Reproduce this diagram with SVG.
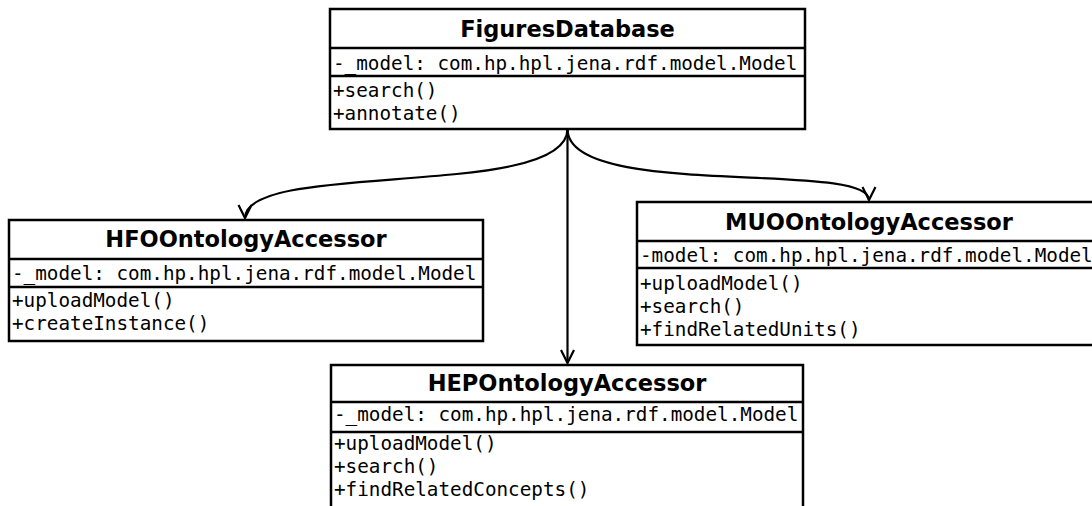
<svg xmlns="http://www.w3.org/2000/svg" width="1092" height="506" viewBox="0 0 1092 506">
  <style>
    .box { fill: #ffffff; stroke: #000000; stroke-width: 2.5; }
    .sep { stroke: #000000; stroke-width: 2.5; }
    .title { font-family: "DejaVu Sans", "Liberation Sans", sans-serif; font-weight: bold; font-size: 22.5px; text-anchor: middle; fill: #000000; }
    .member { font-family: "DejaVu Sans Mono", "Liberation Mono", monospace; font-size: 19.3px; fill: #000000; }
    .edge { fill: none; stroke: #000000; stroke-width: 2.2; }
  </style>
  <defs>
    <marker id="open-arrow" viewBox="0 0 16 16" refX="14" refY="8" markerWidth="16" markerHeight="16" markerUnits="userSpaceOnUse" orient="auto">
      <path d="M1,1.5 L14,8 L1,14.5" fill="none" stroke="#000000" stroke-width="2.2"/>
    </marker>
  </defs>
  <rect width="1092" height="506" fill="#ffffff"/>

  <!-- associations from FiguresDatabase to the accessors -->
  <g id="connectors">
    <path class="edge" d="M567.5,129 C567.5,200 245,160 245,218" marker-end="url(#open-arrow)"/>
    <path class="edge" d="M567.5,129 L567.5,363" marker-end="url(#open-arrow)"/>
    <path class="edge" d="M567.5,129 C567.5,200 869,160 869,200" marker-end="url(#open-arrow)"/>
  </g>

  <g id="FiguresDatabase">
    <rect class="box" x="330" y="9" width="475" height="120"/>
    <line class="sep" x1="330" y1="48" x2="805" y2="48"/>
    <line class="sep" x1="330" y1="76" x2="805" y2="76"/>
    <text class="title" x="567.5" y="37">FiguresDatabase</text>
    <text class="member" x="333" y="70">-_model: com.hp.hpl.jena.rdf.model.Model</text>
    <text class="member" x="333" y="97">+search()</text>
    <text class="member" x="333" y="120">+annotate()</text>
  </g>

  <g id="HFOOntologyAccessor">
    <rect class="box" x="9" y="220" width="474" height="121"/>
    <line class="sep" x1="9" y1="259" x2="483" y2="259"/>
    <line class="sep" x1="9" y1="287" x2="483" y2="287"/>
    <text class="title" x="246" y="247">HFOOntologyAccessor</text>
    <text class="member" x="12" y="280">-_model: com.hp.hpl.jena.rdf.model.Model</text>
    <text class="member" x="12" y="307">+uploadModel()</text>
    <text class="member" x="12" y="330">+createInstance()</text>
  </g>

  <g id="MUOOntologyAccessor">
    <rect class="box" x="637" y="202" width="470" height="143"/>
    <line class="sep" x1="637" y1="241" x2="1107" y2="241"/>
    <line class="sep" x1="637" y1="268" x2="1107" y2="268"/>
    <text class="title" x="869" y="229.5">MUOOntologyAccessor</text>
    <text class="member" x="640" y="262">-model: com.hp.hpl.jena.rdf.model.Model</text>
    <text class="member" x="640" y="290">+uploadModel()</text>
    <text class="member" x="640" y="313">+search()</text>
    <text class="member" x="640" y="336">+findRelatedUnits()</text>
  </g>

  <g id="HEPOntologyAccessor">
    <rect class="box" x="331" y="365" width="472" height="160"/>
    <line class="sep" x1="331" y1="402" x2="803" y2="402"/>
    <line class="sep" x1="331" y1="432" x2="803" y2="432"/>
    <text class="title" x="567" y="391">HEPOntologyAccessor</text>
    <text class="member" x="334" y="421">-_model: com.hp.hpl.jena.rdf.model.Model</text>
    <text class="member" x="334" y="450">+uploadModel()</text>
    <text class="member" x="334" y="473">+search()</text>
    <text class="member" x="334" y="496">+findRelatedConcepts()</text>
  </g>
</svg>
